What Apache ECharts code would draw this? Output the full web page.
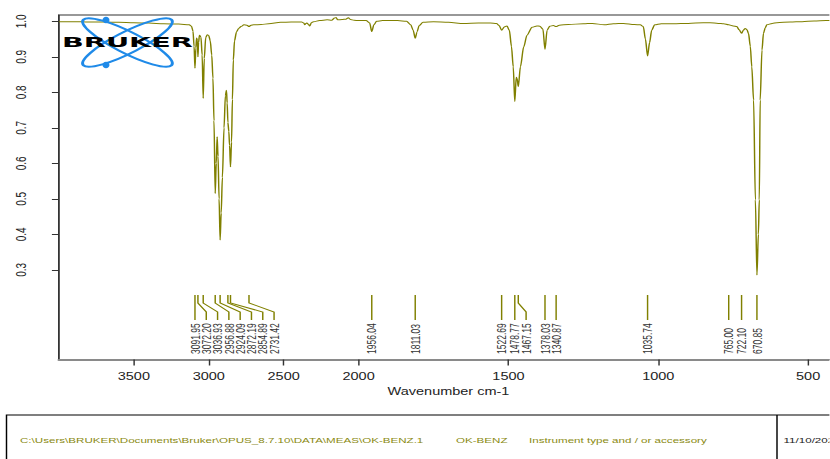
<!DOCTYPE html>
<html>
<head>
<meta charset="utf-8">
<script src="https://cdn.jsdelivr.net/npm/echarts@6/dist/echarts.min.js"></script>
<style>
  html, body { margin: 0; padding: 0; background: #fff; overflow: hidden; }
  #wrap { position: relative; width: 830px; height: 459px; overflow: hidden; background: #fff; }
  #chart { position: absolute; left: 0; top: 0; height: 459px; transform-origin: 0 0; }
</style>
</head>
<body>
<div id="wrap"><div id="chart"></div></div>
<script>
// Spectrum: wavenumber (cm-1) and transmittance
const wavenumbers = [
  4000, 3900, 3800, 3700, 3600, 3500, 3400, 3300, 3200, 3130,
  3115, 3105, 3098, 3091.95, 3086, 3081, 3076, 3072.2, 3068, 3062,
  3052, 3044, 3036.93, 3030, 3020, 3010, 3000, 2990, 2980, 2972,
  2965, 2956.88, 2950, 2944, 2938, 2931, 2924.09, 2917, 2909, 2898,
  2889, 2882, 2877, 2872.19, 2866, 2861, 2854.89, 2848, 2842, 2836,
  2828, 2815, 2800, 2785, 2765, 2745, 2731.42, 2718, 2700, 2650,
  2600, 2520, 2450, 2380, 2366, 2359, 2352, 2345, 2334, 2326,
  2315, 2300, 2260, 2210, 2180, 2160, 2150, 2140, 2110, 2085,
  2068, 2055, 2030, 2000, 1975, 1963, 1956.04, 1949, 1940, 1920,
  1870, 1840, 1826, 1818, 1811.03, 1805, 1798, 1785, 1750, 1700,
  1650, 1600, 1560, 1540, 1531, 1522.69, 1514, 1505, 1497, 1490,
  1484, 1478.77, 1474, 1471, 1467.15, 1460, 1449, 1438, 1421, 1405,
  1395, 1385, 1378.03, 1371, 1362, 1350, 1340.87, 1330, 1300, 1250,
  1220, 1180, 1150, 1116, 1080, 1060, 1050, 1043, 1035.74, 1029,
  1022, 1012, 990, 950, 900, 850, 827, 800, 782, 765,
  750, 738, 730, 722.1, 716, 710, 704, 699, 693, 688,
  682, 676, 670.85, 666, 663, 660, 654, 649, 643, 638,
  620, 604, 560, 520, 480, 440, 400
];
const transmittance = [
  0.999, 0.999, 0.998, 0.998, 0.997, 0.996, 0.995, 0.993, 0.992, 0.990,
  0.986, 0.972, 0.930, 0.868, 0.925, 0.953, 0.945, 0.900, 0.940, 0.961,
  0.955, 0.905, 0.783, 0.895, 0.955, 0.962, 0.960, 0.945, 0.905, 0.840,
  0.720, 0.515, 0.600, 0.675, 0.620, 0.500, 0.384, 0.460, 0.560, 0.700,
  0.790, 0.806, 0.770, 0.715, 0.690, 0.650, 0.590, 0.660, 0.780, 0.891,
  0.945, 0.970, 0.980, 0.985, 0.990, 0.989, 0.985, 0.989, 0.990, 0.991,
  0.993, 0.997, 0.998, 0.998, 0.995, 0.990, 0.994, 0.995, 0.991, 0.987,
  0.996, 0.999, 1.002, 1.004, 1.003, 1.009, 1.011, 1.004, 1.005, 1.006,
  1.010, 1.005, 1.003, 1.002, 1.002, 0.995, 0.971, 0.990, 1.000, 1.002,
  1.002, 1.000, 0.990, 0.975, 0.952, 0.970, 0.988, 0.997, 0.999, 0.997,
  0.994, 0.995, 0.995, 0.994, 0.988, 0.975, 0.984, 0.987, 0.975, 0.930,
  0.872, 0.774, 0.842, 0.838, 0.816, 0.872, 0.928, 0.961, 0.983, 0.987,
  0.986, 0.978, 0.921, 0.975, 0.986, 0.988, 0.985, 0.989, 0.991, 0.993,
  0.994, 0.990, 0.993, 0.994, 0.991, 0.990, 0.985, 0.950, 0.902, 0.940,
  0.975, 0.990, 0.993, 0.993, 0.994, 0.996, 0.996, 0.994, 0.993, 0.990,
  0.987, 0.985, 0.976, 0.966, 0.975, 0.980, 0.976, 0.966, 0.930, 0.872,
  0.778, 0.497, 0.285, 0.400, 0.497, 0.778, 0.919, 0.966, 0.982, 0.990,
  0.994, 0.996, 0.998, 0.999, 1.001, 1.002, 1.003
];

// Picked peak positions (cm-1)
const peakWavenumbers = [
  3091.95, 3072.20, 3036.93, 2956.88, 2924.09, 2872.19, 2854.89, 2731.42,
  1956.04, 1811.03, 1522.69, 1478.77, 1467.15, 1378.03, 1340.87, 1035.74,
  765.00, 722.10, 670.85
];

// Axis ticks
const xTickWavenumbers = [3500, 3000, 2500, 2000, 1500, 1000, 500];
const yTickValues = [0.3, 0.4, 0.5, 0.6, 0.7, 0.8, 0.9, 1.0];
const xAxisTitle = 'Wavenumber cm-1';

// Footer fields
const footerFields = [
  'C:\\Users\\BRUKER\\Documents\\Bruker\\OPUS_8.7.10\\DATA\\MEAS\\OK-BENZ.1',
  'OK-BENZ',
  'Instrument type and / or accessory',
  '11/10/2023'
];

// The drawing is laid out narrow and widened horizontally as a whole
const STRETCH = 1.45;
const W0 = 830 / STRETCH;
const chartEl = document.getElementById('chart');
chartEl.style.width = W0 + 'px';
chartEl.style.transform = 'scaleX(' + STRETCH + ')';

// Above 2000 cm-1 the wavenumber axis is compressed by a factor of two
function toAxis(w) { return w > 2000 ? 2000 + (w - 2000) / 2 : w; }
function fromAxis(u) { return u > 2000 ? 2000 + (u - 2000) * 2 : u; }

const Y_MIN = 0.0473, Y_MAX = 1.0177;
const OLIVE = '#808000';
const TEXT = '#222';
const FONT = '"Liberation Sans", Arial, sans-serif';
const LABEL_GAP = 11.3 / STRETCH;

const spectrum = wavenumbers.map((w, i) => [toAxis(w), transmittance[i]]);
const peakLabels = peakWavenumbers.map(w => w.toFixed(2));

function renderPeakMarker(params, api) {
  const i = params.dataIndex;
  const xs = peakWavenumbers.map(w => api.coord([toAxis(w), Y_MIN])[0]);
  const base = api.coord([toAxis(peakWavenumbers[i]), Y_MIN])[1];
  // spread crowded labels to the right
  const order = xs.map((_, k) => k).sort((a, b) => xs[a] - xs[b]);
  const slots = [];
  let last = -Infinity;
  order.forEach(k => { slots[k] = Math.max(xs[k], last + LABEL_GAP); last = slots[k]; });
  const px = xs[i], lx = slots[i];
  const pts = Math.abs(lx - px) < 0.6
    ? [[px, base - 64.5], [px, base - 39.5]]
    : [[px, base - 64.5], [px, base - 56.5], [lx, base - 47.5], [lx, base - 39.5]];
  return {
    type: 'group',
    children: [
      { type: 'polyline', shape: { points: pts }, style: { stroke: OLIVE, lineWidth: 1, fill: null } },
      {
        type: 'text', x: lx, y: base - 5.5, rotation: Math.PI / 2,
        style: { text: peakLabels[i], fontSize: 8.5, fontFamily: FONT, fill: '#333', align: 'left', verticalAlign: 'middle' }
      }
    ]
  };
}

const chart = echarts.init(chartEl, null, { renderer: 'svg' });

const logoCx = 87.9, logoCy = 42.5;
const BLUE = '#1f8ae8';

chart.setOption({
  animation: false,
  backgroundColor: '#fff',
  grid: {
    left: 58.9 / STRETCH, top: 15, width: 779.2 / STRETCH, height: 344.5,
    outerBoundsMode: 'none', containLabel: false,
    show: true, borderColor: '#333', borderWidth: 1, backgroundColor: 'transparent'
  },
  xAxis: {
    type: 'value', inverse: true,
    min: toAxis(400), max: toAxis(4000),
    name: xAxisTitle, nameLocation: 'middle', nameGap: 27,
    nameTextStyle: { fontSize: 10, fontFamily: FONT, color: TEXT },
    axisLine: { show: true, lineStyle: { color: '#8a8a8a', width: 2 } },
    axisTick: { show: true, length: 6, customValues: xTickWavenumbers.map(toAxis), lineStyle: { color: '#333', width: 1 } },
    axisLabel: {
      customValues: xTickWavenumbers.map(toAxis), margin: 12,
      fontSize: 10, fontFamily: FONT, color: TEXT,
      formatter: v => String(Math.round(fromAxis(v)))
    },
    splitLine: { show: false }
  },
  yAxis: {
    type: 'value', min: Y_MIN, max: Y_MAX,
    axisLine: { show: true, lineStyle: { color: '#333', width: 1 } },
    axisTick: { show: true, length: 7 / STRETCH, customValues: yTickValues, lineStyle: { color: '#333', width: 1 } },
    axisLabel: {
      customValues: yTickValues, rotate: 90, margin: 21,
      fontSize: 10, fontFamily: FONT, color: TEXT,
      formatter: v => v.toFixed(1)
    },
    splitLine: { show: false }
  },
  series: [
    {
      type: 'line', data: spectrum, showSymbol: false, smooth: 0.3, smoothMonotone: 'x',
      lineStyle: { color: OLIVE, width: 1 }, z: 2, silent: true
    },
    {
      type: 'custom', data: peakWavenumbers.map(w => [toAxis(w), Y_MIN]),
      encode: { x: 0, y: 1 }, renderItem: renderPeakMarker, clip: false, z: 3, silent: true
    }
  ],
  graphic: [
    // company logo
    { type: 'ellipse', x: logoCx, y: logoCy, rotation: 37 * Math.PI / 180, shape: { cx: 0, cy: 0, rx: 38, ry: 10 }, style: { fill: null, stroke: BLUE, lineWidth: 2 }, z: 100 },
    { type: 'ellipse', x: logoCx, y: logoCy, rotation: -37 * Math.PI / 180, shape: { cx: 0, cy: 0, rx: 38, ry: 10 }, style: { fill: null, stroke: BLUE, lineWidth: 2 }, z: 100 },
    { type: 'ellipse', shape: { cx: logoCx - 14.8, cy: logoCy - 22.5, rx: 2.4, ry: 3.2 }, style: { fill: BLUE }, z: 101 },
    { type: 'ellipse', shape: { cx: logoCx - 14.8, cy: logoCy + 22.5, rx: 2.4, ry: 3.2 }, style: { fill: BLUE }, z: 101 },
    { type: 'text', x: 42.8, y: 42.5, scaleX: 1.41, style: { text: 'BRUKER', font: 'bold 14px "DejaVu Sans"', fill: '#000', align: 'left', verticalAlign: 'middle' }, z: 102 },
    // footer box
    { type: 'rect', shape: { x: 6.5 / STRETCH, y: 415, width: 900, height: 100 }, style: { fill: null, stroke: '#000', lineWidth: 1 }, z: 50 },
    { type: 'line', shape: { x1: 777 / STRETCH, y1: 415, x2: 777 / STRETCH, y2: 470 }, style: { stroke: '#000', lineWidth: 1 }, z: 50 },
    { type: 'text', x: 20 / STRETCH, y: 440, style: { text: footerFields[0], font: '8px ' + FONT, fill: '#8a8a12', verticalAlign: 'middle' }, z: 51 },
    { type: 'text', x: 456 / STRETCH, y: 440, style: { text: footerFields[1], font: '8px ' + FONT, fill: '#8a8a12', verticalAlign: 'middle' }, z: 51 },
    { type: 'text', x: 529 / STRETCH, y: 440, style: { text: footerFields[2], font: '8px ' + FONT, fill: '#8a8a12', verticalAlign: 'middle' }, z: 51 },
    { type: 'text', x: 783.5 / STRETCH, y: 440, style: { text: footerFields[3], font: '8px ' + FONT, fill: '#222', verticalAlign: 'middle' }, z: 51 }
  ]
});
</script>
</body>
</html>
